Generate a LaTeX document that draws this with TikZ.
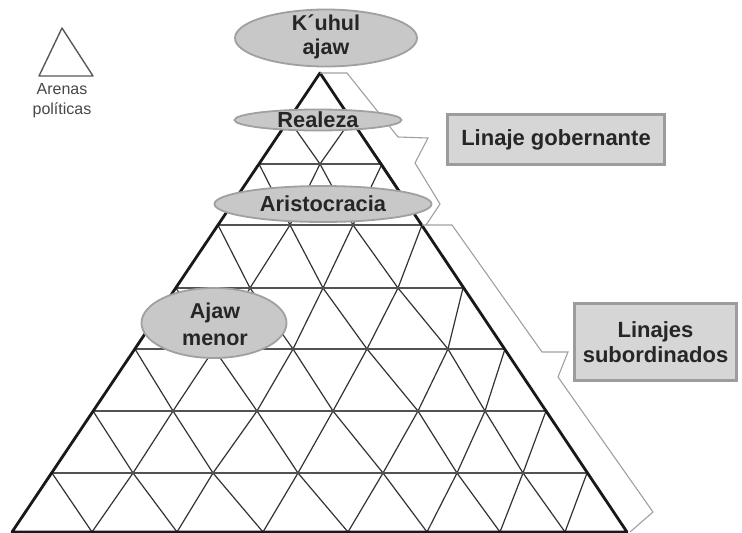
\documentclass[tikz,border=0pt]{standalone}
\usepackage{fontspec}
\setmainfont{Liberation Sans}
\usetikzlibrary{shapes.geometric}
\definecolor{txt}{HTML}{262626}
\definecolor{ovalfill}{HTML}{C8C8C8}
\definecolor{ovalline}{HTML}{A0A0A0}
\definecolor{boxfill}{HTML}{D6D6D6}
\definecolor{boxline}{HTML}{9C9C9C}
\definecolor{braceline}{HTML}{A0A0A0}
\definecolor{gridline}{HTML}{333333}
\tikzset{
  oval/.style={ellipse, fill=ovalfill, draw=ovalline, line width=1.8pt, inner sep=0pt},
  lbl/.style={text=txt, font=\bfseries\fontsize{21.8}{24}\selectfont, align=center, inner sep=0pt},
  boxnode/.style={rectangle, fill=boxfill, draw=boxline, line width=3pt, inner sep=0pt,
     text=txt, font=\bfseries\fontsize{22}{25}\selectfont, align=center},
  legendtxt/.style={text=black!72, font=\fontsize{16}{20}\selectfont, align=center, inner sep=0pt},
  gridl/.style={draw=gridline, line width=1.2pt},
  edgel/.style={draw=black!90, line width=2.8pt, line join=round},
  bracel/.style={draw=braceline, line width=1.1pt, line join=miter},
}
\begin{document}
\begin{tikzpicture}[x=1pt,y=-1pt]
\useasboundingbox (0,0) rectangle (742,533);
\fill[white] (0,0) rectangle (742,533);

% lattice vertices
\foreach \yy/\xs [count=\kk from 0] in {
  532/{12,92,177,263,348,427,500,565,627},
  473/{52,133,213,298,383,457,523,587},
  411/{93,173,257,333,418,485,546},
  349/{135,214,293,367,448,505},
  288/{176,250,323,398,463},
  225/{218,290,353,422},
  164/{259,320,382},
  120/{289,351}}
{
  \foreach \xx [count=\ii] in \xs { \coordinate (v-\kk-\ii) at (\xx,\yy); }
}

% diagonal lattice lines
\foreach \kk in {0,...,6}{
  \pgfmathtruncatemacro{\nn}{8-\kk}
  \pgfmathtruncatemacro{\kn}{\kk+1}
  \foreach \jj in {1,...,\nn}{
    \pgfmathtruncatemacro{\jn}{\jj+1}
    \draw[gridl] (v-\kk-\jj) -- (v-\kn-\jj);
    \draw[gridl] (v-\kk-\jn) -- (v-\kn-\jj);
  }
}
% horizontal lattice lines
\foreach \kk in {1,...,6}{
  \pgfmathtruncatemacro{\nn}{9-\kk}
  \draw[gridl, draw=black!68] (v-\kk-1) -- (v-\kk-\nn);
}

% outer triangle
\coordinate (apex) at (320,73);
\coordinate (bl) at (12,532);
\coordinate (br) at (627,532);
\draw[edgel] (bl) -- (apex) -- (br) -- cycle;

% braces
\draw[bracel] (apex) -- (347,73) -- (398,137) -- (428,138) -- (415,163) -- (440,204) -- (426,225);
\draw[bracel] (v-5-4) -- (452,225) -- (542,352) -- (568,352) -- (558,377) -- (653,512) -- (630,532);

% ovals
\node[oval, minimum width=182pt, minimum height=57pt] (kuhul) at (326,38) {};
\node[lbl, font=\bfseries\fontsize{21.5}{24}\selectfont] (kuhul-t) at (326,37) {K´uhul\\ajaw};
\node[oval, minimum width=167pt, minimum height=21pt] (realeza) at (318,120) {};
\node[lbl] (realeza-t) at (realeza) {Realeza};
\node[oval, minimum width=217pt, minimum height=36pt] (aristo) at (323,204) {};
\node[lbl] (aristo-t) at (aristo) {Aristocracia};
\node[oval, minimum width=145pt, minimum height=70pt] (ajaw) at (214,323) {};
\node[lbl, font=\bfseries\fontsize{21.5}{27}\selectfont] (ajaw-t) at (215,324) {Ajaw\\menor};

% boxes
\node[boxnode, minimum width=217pt, minimum height=50pt] (gob) at (556,139.5) {Linaje gobernante};
\node[boxnode, minimum width=162pt, minimum height=77pt] (sub) at (655.5,342) {Linajes\\subordinados};

% legend
\coordinate (la) at (62,28);
\coordinate (lb) at (39,76);
\coordinate (lc) at (93,76);
\draw[draw=black!65, line width=1.4pt, line join=round] (la) -- (lb) -- (lc) -- cycle;
\node[legendtxt] (leg) at (62,101) {Arenas\\políticas};
\end{tikzpicture}
\end{document}
